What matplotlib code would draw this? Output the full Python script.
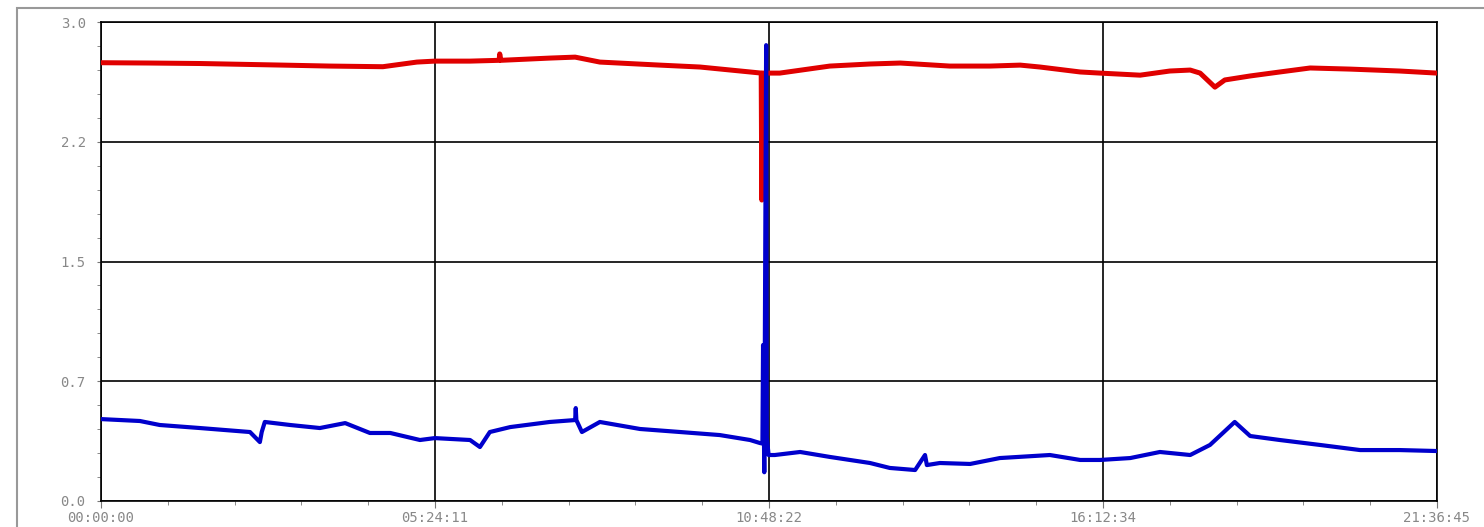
import matplotlib
matplotlib.use("Agg")
import matplotlib.pyplot as plt
from matplotlib.patches import Rectangle
from matplotlib.ticker import MultipleLocator

# time axis in hours, total span 21:36:45
total_h = 21.6125
x_labels = ["00:00:00", "05:24:11", "10:48:22", "16:12:34", "21:36:45"]
y_ticks = [0.0, 0.75, 1.5, 2.25, 3.0]
y_labels = ["0.0", "0.7", "1.5", "2.2", "3.0"]

red_t = [0.0, 0.79, 1.60, 2.94, 3.70, 4.56, 5.11, 5.40, 5.97, 6.44, 6.45, 6.47,
         7.26, 7.67, 8.07, 9.04, 9.69, 10.50, 10.68, 10.69, 10.70, 10.71, 10.98,
         11.79, 12.44, 12.93, 13.73, 14.38, 14.87, 15.19, 15.84, 16.16, 16.81,
         17.29, 17.62, 17.78, 18.02, 18.18, 18.59, 19.07, 19.56, 20.21, 21.01, 21.61]
red_v = [2.745, 2.743, 2.740, 2.730, 2.724, 2.720, 2.749, 2.755, 2.755, 2.760, 2.80, 2.760,
         2.774, 2.780, 2.749, 2.730, 2.718, 2.687, 2.680, 1.885, 2.68, 2.680, 2.680,
         2.724, 2.737, 2.743, 2.724, 2.724, 2.730, 2.718, 2.687, 2.680, 2.667,
         2.693, 2.699, 2.680, 2.592, 2.637, 2.662, 2.687, 2.712, 2.705, 2.693, 2.680]

blue_t = [0.0, 0.63, 0.95, 1.60, 2.41, 2.57, 2.60, 2.65, 3.06, 3.54, 3.95, 4.35,
          4.68, 5.16, 5.40, 5.97, 6.13, 6.29, 6.62, 7.26, 7.67, 7.68, 7.69, 7.78,
          8.07, 8.72, 9.37, 10.01, 10.50, 10.66, 10.70, 10.71, 10.73, 10.76, 10.77,
          10.80, 10.90, 11.31, 11.79, 12.44, 12.76, 13.17, 13.33, 13.36, 13.57,
          14.06, 14.54, 15.35, 15.84, 16.16, 16.65, 17.13, 17.62, 17.94, 18.34,
          18.59, 19.07, 19.72, 20.37, 21.01, 21.61]
blue_v = [0.513, 0.501, 0.476, 0.457, 0.432, 0.369, 0.432, 0.495, 0.476, 0.457, 0.488, 0.426,
          0.426, 0.382, 0.394, 0.382, 0.338, 0.432, 0.463, 0.495, 0.507, 0.582, 0.507, 0.432,
          0.495, 0.451, 0.432, 0.413, 0.382, 0.363, 0.360, 0.977, 0.18, 2.855, 0.40,
          0.288, 0.288, 0.307, 0.276, 0.238, 0.207, 0.194, 0.288, 0.225, 0.238,
          0.232, 0.269, 0.288, 0.257, 0.257, 0.269, 0.307, 0.288, 0.351, 0.495,
          0.407, 0.382, 0.351, 0.319, 0.319, 0.313]

fig = plt.figure(figsize=(14.84, 5.27), dpi=100)
ax = fig.add_axes([101 / 1484, 1 - 501 / 527, 1336 / 1484, 479 / 527])

# outer grey frame of the original window
fig.patches.append(Rectangle((17 / 1484, -0.1), 1.1, 1.1 - 8 / 527,
                             transform=fig.transFigure, fill=False,
                             edgecolor="#999999", lw=1.5))

ax.plot(red_t, red_v, color="#e00000", lw=3.6, zorder=3)
ax.plot(blue_t, blue_v, color="#0000cc", lw=3.0, zorder=3)

ax.set_xlim(0, total_h)
ax.set_ylim(0, 3.0)
ax.set_xticks([total_h * i / 4 for i in range(5)])
ax.set_xticklabels(x_labels)
ax.xaxis.set_minor_locator(MultipleLocator(total_h / 20))
ax.set_yticks(y_ticks)
ax.set_yticklabels(y_labels)
ax.yaxis.set_minor_locator(MultipleLocator(0.15))

ax.grid(True, which="major", color="black", lw=1.2, zorder=1)
ax.set_axisbelow(True)
for s in ax.spines.values():
    s.set_color("black")
    s.set_linewidth(1.2)

ax.tick_params(axis="both", which="both", colors="#777777", labelcolor="#888888",
               labelsize=10, direction="out")
ax.tick_params(axis="x", which="major", length=5, pad=2)
ax.tick_params(axis="x", which="minor", length=3)
ax.tick_params(axis="y", which="major", length=3, pad=8)
ax.tick_params(axis="y", which="minor", length=3)
for lab in ax.get_xticklabels() + ax.get_yticklabels():
    lab.set_family("DejaVu Sans Mono")

fig.savefig("out.png", dpi=100)
